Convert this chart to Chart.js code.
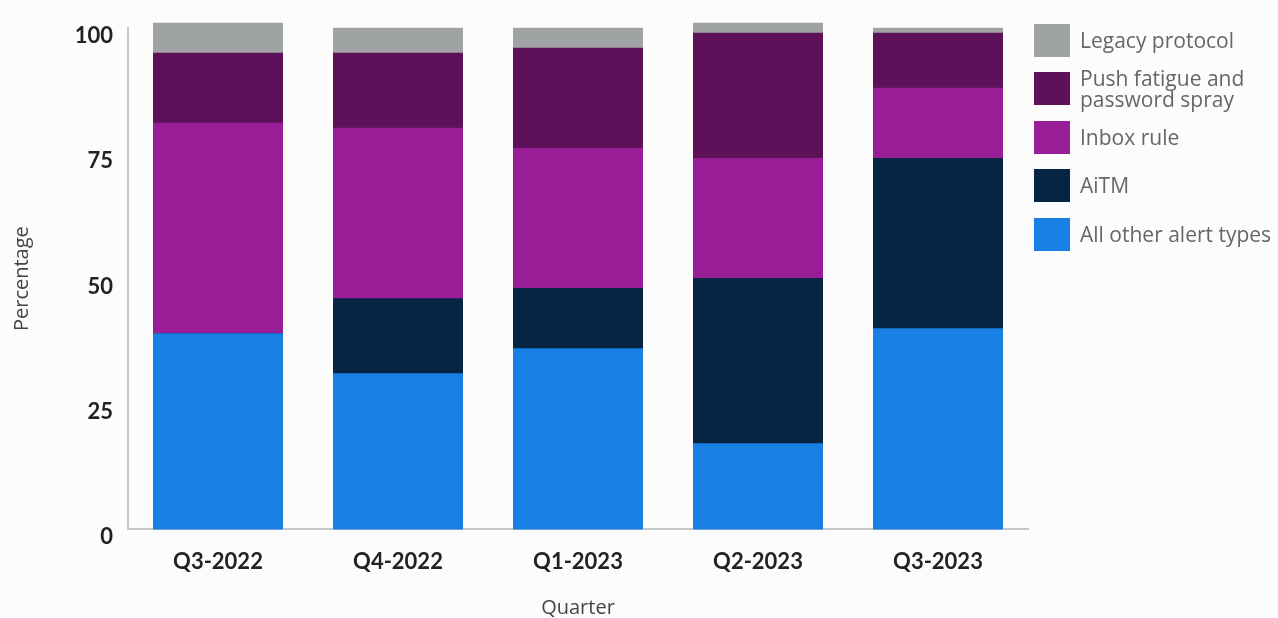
<!DOCTYPE html>
<html><head><meta charset="utf-8">
<script src="https://cdn.jsdelivr.net/npm/chart.js@4.4.0/dist/chart.umd.min.js"></script>
<style>
html,body{margin:0;padding:0;background:#fcfcfc;}
#wrap{position:relative;width:1278px;height:618px;overflow:hidden;}
canvas{position:absolute;left:0;top:0;}
#legend{position:absolute;left:1034px;top:16px;font-family:"Open Sans",sans-serif;font-size:21px;color:#666;}
.row{position:absolute;left:0;height:48.5px;display:flex;align-items:center;white-space:nowrap;}
.box{width:36px;height:33px;flex:none;margin-right:10px;}
.lbl{line-height:21px;}
</style></head><body>
<div id="wrap"><canvas id="c" width="1278" height="618"></canvas><div id="legend"></div></div>
<script>
const categories = ['Q3-2022','Q4-2022','Q1-2023','Q2-2023','Q3-2023'];
const allOther = [39,31,36,17,40];
const aitm = [0,15,12,33,34];
const inboxRule = [42,34,28,24,14];
const pushFatigue = [14,15,20,25,11];
const legacy = [6,5,4,2,1];
const yTicks = [0,25,50,75,100];
const seriesNames = ['All other alert types','AiTM','Inbox rule',['Push fatigue and','password spray'],'Legacy protocol'];
const seriesColors = ['#187fe4','#062543','#981d97','#5c1159','#a0a3a4'];
const seriesValues = [allOther, aitm, inboxRule, pushFatigue, legacy];

const datasets = seriesValues.map((v,i)=>({
  label: Array.isArray(seriesNames[i]) ? seriesNames[i].join(' ') : seriesNames[i],
  data: v,
  backgroundColor: seriesColors[i],
  borderWidth: 0,
  inflateAmount: 0.5,
  clip: false,
  barPercentage: 129/180,
  categoryPercentage: 1
}));

const chart = new Chart(document.getElementById('c'), {
  type: 'bar',
  data: { labels: categories, datasets },
  options: {
    responsive: false,
    animation: false,
    devicePixelRatio: 1,
    layout: { padding: { left: 0, right: 250, top: 19.8, bottom: 0 } },
    plugins: { legend: { display: false }, tooltip: { enabled: false } },
    scales: {
      x: {
        stacked: true,
        grid: { display: false, drawTicks: false },
        border: { display: true, color: '#c6c9cc', width: 2 },
        ticks: { color: '#222', font: { family: 'Lato', size: 22, weight: 'bold' }, padding: 20 },
        title: { display: true, text: 'Quarter', color: '#444', font: { family: 'Open Sans', size: 20, lineHeight: 1 }, padding: { top: 0, bottom: 0 } },
        afterFit: s => { s.height = 89; }
      },
      y: {
        stacked: true,
        min: 0, max: 100,
        afterBuildTicks: s => { s.ticks = yTicks.map(v => ({ value: v })); },
        grid: { display: false, drawTicks: false },
        border: { display: true, color: '#c6c9cc', width: 2 },
        ticks: { color: '#222', font: { family: 'Lato', size: 22, weight: 'bold' }, padding: 15, labelOffset: 8 },
        title: { display: true, text: 'Percentage', color: '#444', font: { family: 'Open Sans', size: 20, lineHeight: 1.2 }, padding: { top: 10, bottom: 0 } },
        afterFit: s => { s.width = 128; }
      }
    }
  }
});

const leg = document.getElementById('legend');
const order = [4,3,2,1,0];
order.forEach((idx, r) => {
  const row = document.createElement('div');
  row.className = 'row';
  row.style.top = (r * 48.5) + 'px';
  const box = document.createElement('div');
  box.className = 'box';
  box.style.background = chart.data.datasets[idx].backgroundColor;
  const lbl = document.createElement('div');
  lbl.className = 'lbl';
  const n = seriesNames[idx];
  lbl.innerHTML = Array.isArray(n) ? n.join('<br>') : n;
  row.appendChild(box); row.appendChild(lbl);
  leg.appendChild(row);
});
</script>
</body></html>
